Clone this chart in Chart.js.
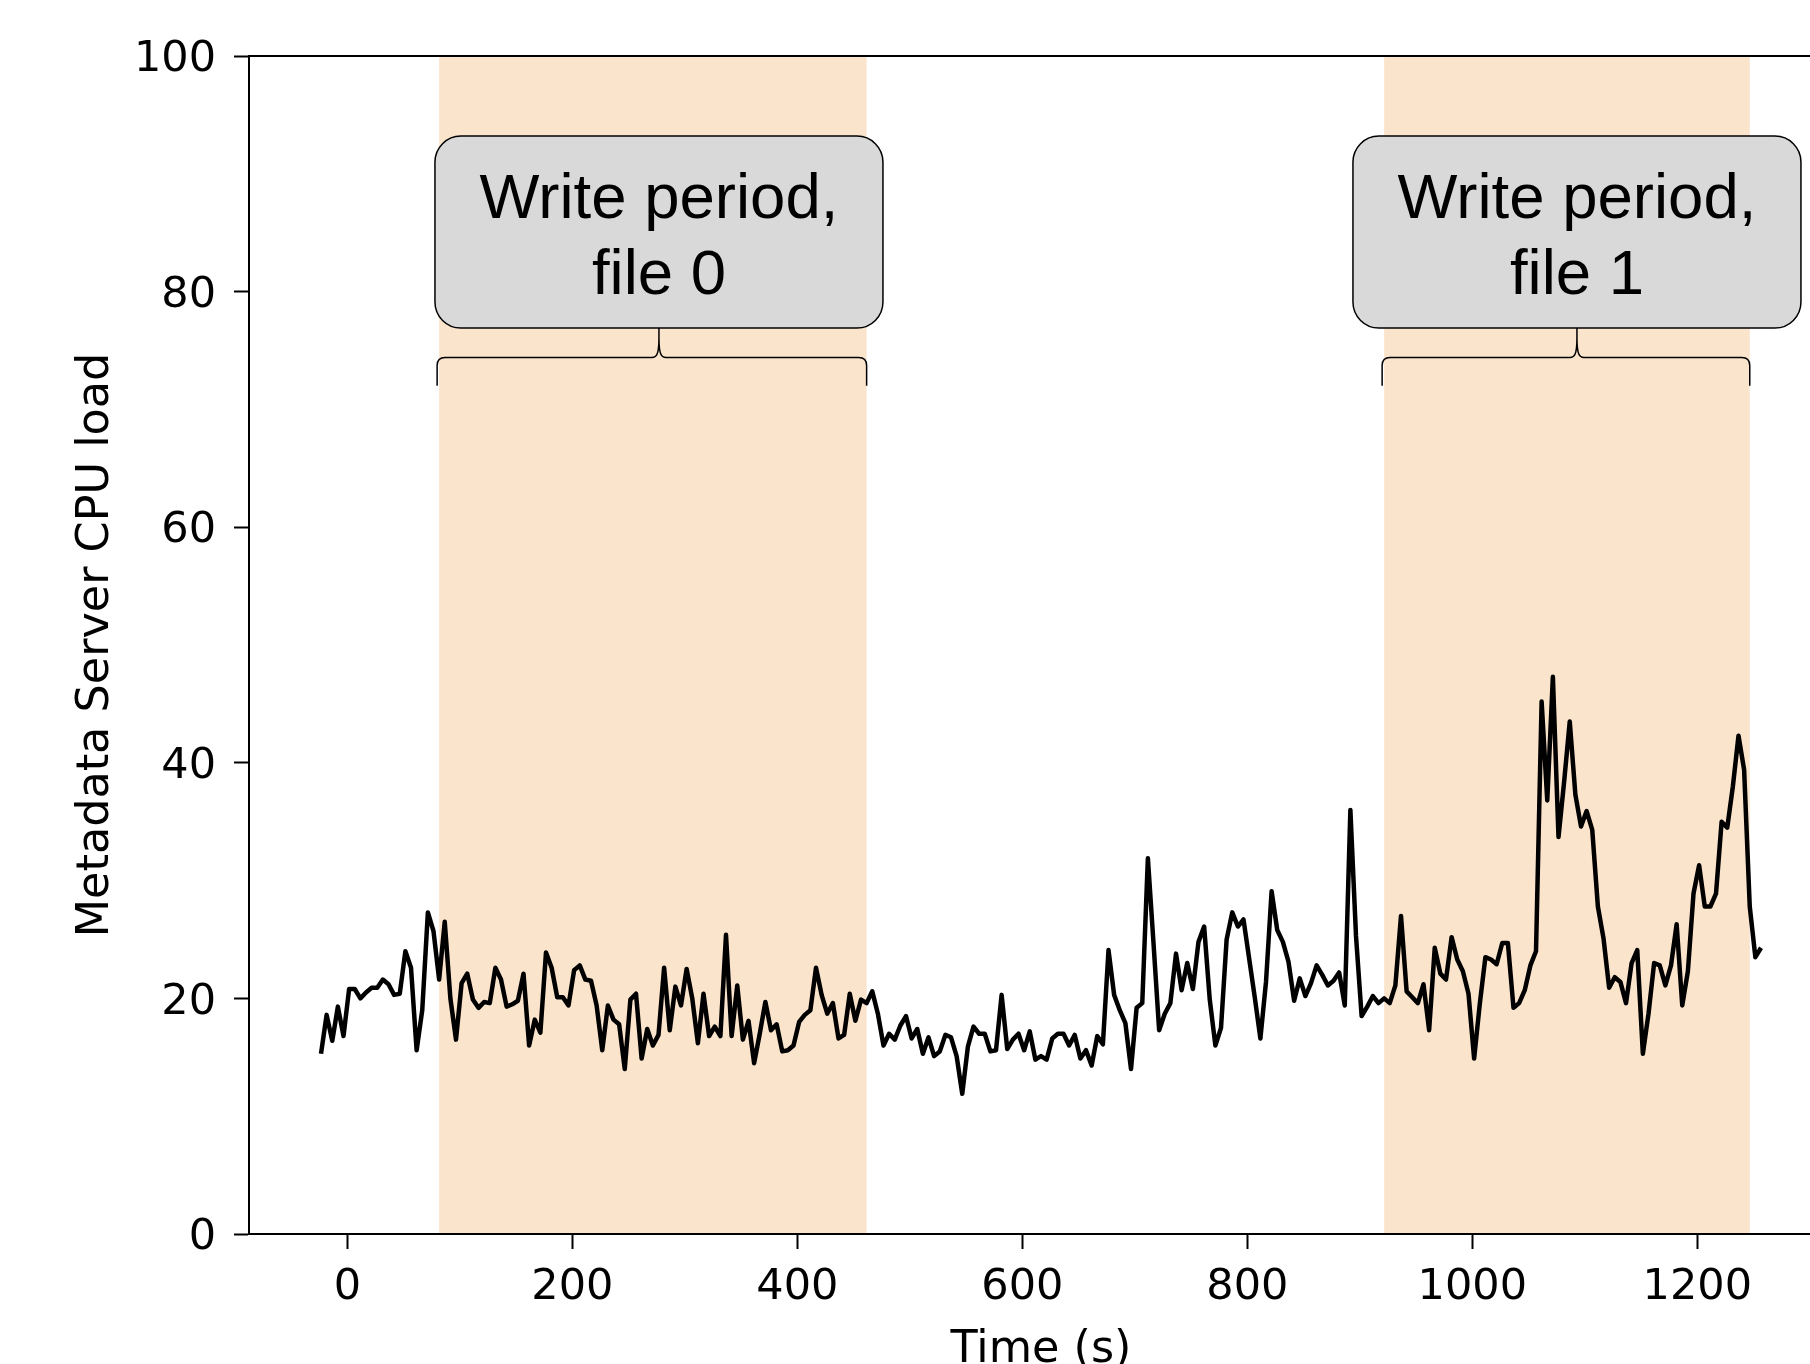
<!DOCTYPE html>
<html>
<head>
<meta charset="utf-8">
<script src="https://cdn.jsdelivr.net/npm/chart.js@4.4.0/dist/chart.umd.min.js"></script>
<style>
html,body{margin:0;padding:0;overflow:hidden;background:#fff;}
canvas{display:block;}
</style>
</head>
<body>
<canvas id="c" width="1840" height="1400"></canvas>
<script>
// ---- data ----
const startTime = -23.4;      // time of first sample (s)
const sampleInterval = 5;     // seconds between samples
const cpuLoad = [
  15.3, 18.6, 16.4, 19.3, 16.8, 20.8, 20.8, 20.0, 20.5, 20.9,
  20.9, 21.6, 21.2, 20.3, 20.4, 24.0, 22.6, 15.6, 19.0, 27.3,
  25.7, 21.6, 26.5, 20.0, 16.5, 21.3, 22.1, 19.9, 19.2, 19.7,
  19.6, 22.6, 21.6, 19.3, 19.5, 19.8, 22.1, 16.0, 18.2, 17.1,
  23.9, 22.6, 20.1, 20.1, 19.4, 22.4, 22.8, 21.6, 21.5, 19.4,
  15.6, 19.4, 18.2, 17.8, 14.0, 19.9, 20.4, 14.9, 17.4, 16.0,
  16.9, 22.6, 17.3, 21.0, 19.4, 22.5, 20.0, 16.2, 20.4, 16.8,
  17.6, 16.8, 25.4, 16.8, 21.1, 16.5, 18.1, 14.5, 17.0, 19.7,
  17.3, 17.8, 15.5, 15.6, 16.0, 18.0, 18.6, 19.0, 22.6, 20.3,
  18.7, 19.6, 16.6, 16.9, 20.4, 18.1, 19.9, 19.6, 20.6, 18.7,
  16.0, 17.0, 16.5, 17.7, 18.5, 16.6, 17.4, 15.3, 16.7, 15.1,
  15.5, 16.9, 16.7, 15.1, 11.9, 15.9, 17.6, 17.0, 17.0, 15.5,
  15.6, 20.3, 15.7, 16.5, 17.0, 15.6, 17.2, 14.8, 15.1, 14.8,
  16.6, 17.0, 17.0, 16.0, 16.9, 14.9, 15.6, 14.3, 16.8, 16.1,
  24.1, 20.3, 19.0, 17.9, 14.0, 19.2, 19.6, 31.9, 24.7, 17.3,
  18.7, 19.6, 23.8, 20.7, 23.0, 20.8, 24.8, 26.1, 19.9, 16.0,
  17.5, 25.0, 27.3, 26.1, 26.7, 23.4, 20.1, 16.6, 21.4, 29.1,
  25.8, 24.8, 23.1, 19.8, 21.7, 20.2, 21.3, 22.8, 22.0, 21.1,
  21.5, 22.2, 19.4, 36.0, 25.3, 18.5, 19.3, 20.2, 19.6, 20.0,
  19.6, 21.1, 27.0, 20.6, 20.1, 19.6, 21.2, 17.3, 24.3, 22.1,
  21.6, 25.2, 23.3, 22.3, 20.4, 14.9, 19.5, 23.5, 23.3, 22.9,
  24.7, 24.7, 19.2, 19.6, 20.7, 22.8, 24.0, 45.2, 36.8, 47.3,
  33.7, 38.4, 43.5, 37.3, 34.6, 35.9, 34.3, 27.8, 25.1, 20.9,
  21.8, 21.4, 19.6, 23.0, 24.1, 15.3, 18.7, 23.0, 22.8, 21.1,
  22.8, 26.3, 19.4, 22.3, 28.9, 31.3, 27.8, 27.8, 28.9, 35.0,
  34.5, 38.0, 42.3, 39.4, 27.8, 23.5, 24.3
];
const xTicks = [0, 200, 400, 600, 800, 1000, 1200];
const yTicks = [0, 20, 40, 60, 80, 100];
const xRange = [-87.4, 1320.6];
const yRange = [0, 100];
const spanStarts = [81.6, 921.6];
const spanEnds = [461.6, 1246.6];
const noteCenters = [277, 1093];
const noteLines = [["Write period,", "file 0"], ["Write period,", "file 1"]];
const noteBoxTop = 93.2, noteBoxBottom = 76.9, braceLevel = 74.4, braceFoot = 72.0;

// ---- drawing ----
Chart.defaults.font.family = "'DejaVu Sans', sans-serif";
Chart.defaults.color = '#000';

function roundedRect(ctx, x, y, w, h, r) {
  ctx.beginPath();
  ctx.moveTo(x + r, y);
  ctx.lineTo(x + w - r, y);
  ctx.arcTo(x + w, y, x + w, y + r, r);
  ctx.lineTo(x + w, y + h - r);
  ctx.arcTo(x + w, y + h, x + w - r, y + h, r);
  ctx.lineTo(x + r, y + h);
  ctx.arcTo(x, y + h, x, y + h - r, r);
  ctx.lineTo(x, y + r);
  ctx.arcTo(x, y, x + r, y, r);
  ctx.closePath();
}

const overlay = {
  id: 'overlay',
  beforeDraw(chart) {
    const {ctx, chartArea: a, scales: {x}} = chart;
    ctx.save();
    ctx.fillStyle = '#FBE4CC';
    spanStarts.forEach((s, i) => {
      const x0 = x.getPixelForValue(s), x1 = x.getPixelForValue(spanEnds[i]);
      ctx.fillRect(x0, a.top, x1 - x0, a.bottom - a.top);
    });
    ctx.restore();
  },
  afterDatasetsDraw(chart) {
    const {ctx, chartArea: a, scales: {x, y}} = chart;
    ctx.save();
    // top spine
    ctx.strokeStyle = '#000';
    ctx.lineWidth = 2;
    ctx.beginPath();
    ctx.moveTo(a.left - 1, a.top);
    ctx.lineTo(a.right, a.top);
    ctx.stroke();

    const boxW = 448, rad = 26;
    noteCenters.forEach((c, i) => {
      const cx = x.getPixelForValue(c);
      const top = y.getPixelForValue(noteBoxTop);
      const bot = y.getPixelForValue(noteBoxBottom);
      roundedRect(ctx, cx - boxW / 2, top, boxW, bot - top, rad);
      ctx.fillStyle = '#D9D9D9';
      ctx.fill();
      ctx.lineWidth = 1.5;
      ctx.strokeStyle = '#000';
      ctx.stroke();
      ctx.fillStyle = '#000';
      ctx.font = '63.5px "Liberation Sans", Arial, sans-serif';
      ctx.textAlign = 'center';
      ctx.textBaseline = 'alphabetic';
      ctx.fillText(noteLines[i][0], cx, top + 82);
      ctx.fillText(noteLines[i][1], cx, top + 158);

      // curly bracket
      const bx0 = x.getPixelForValue(spanStarts[i]) - 2;
      const bx1 = x.getPixelForValue(spanEnds[i]);
      const by = y.getPixelForValue(braceLevel);
      const byF = y.getPixelForValue(braceFoot);
      const tipY = by - 20;
      ctx.lineWidth = 1.5;
      ctx.beginPath();
      ctx.moveTo(bx0, byF);
      ctx.lineTo(bx0, by + 8);
      ctx.quadraticCurveTo(bx0, by, bx0 + 8, by);
      ctx.lineTo(cx - 7, by);
      ctx.bezierCurveTo(cx - 2, by, cx, by - 4, cx, tipY);
      ctx.lineTo(cx, bot);
      ctx.moveTo(cx, tipY);
      ctx.bezierCurveTo(cx, by - 4, cx + 2, by, cx + 7, by);
      ctx.lineTo(bx1 - 8, by);
      ctx.quadraticCurveTo(bx1, by, bx1, by + 8);
      ctx.lineTo(bx1, byF);
      ctx.stroke();
    });
    ctx.restore();
  }
};

new Chart(document.getElementById('c'), {
  type: 'line',
  data: {
    datasets: [{
      data: cpuLoad.map((v, i) => ({x: startTime + i * sampleInterval, y: v})),
      borderColor: '#000',
      borderWidth: 4.5,
      pointRadius: 0,
      tension: 0,
      fill: false,
      borderJoinStyle: 'round'
    }]
  },
  options: {
    responsive: false,
    animation: false,
    devicePixelRatio: 1,
    layout: {padding: {top: 56, right: 7, left: 0, bottom: 0}},
    plugins: {legend: {display: false}, tooltip: {enabled: false}},
    scales: {
      x: {
        type: 'linear',
        min: xRange[0], max: xRange[1],
        afterBuildTicks: s => { s.ticks = xTicks.map(v => ({value: v})); },
        afterFit: s => { s.height = 166; },
        grid: {drawOnChartArea: false, drawTicks: true, tickLength: 15, tickWidth: 2, tickColor: '#000'},
        border: {display: true, color: '#000', width: 2},
        ticks: {color: '#000', font: {size: 43}, padding: 13, maxRotation: 0, autoSkip: false,
                callback: v => String(v)},
        title: {display: true, text: 'Time (s)', color: '#000', font: {size: 44.5}, padding: {top: 0, bottom: 23}}
      },
      y: {
        type: 'linear',
        min: yRange[0], max: yRange[1],
        afterBuildTicks: s => { s.ticks = yTicks.map(v => ({value: v})); },
        afterFit: s => { s.width = 249; },
        grid: {drawOnChartArea: false, drawTicks: true, tickLength: 15, tickWidth: 2, tickColor: '#000'},
        border: {display: true, color: '#000', width: 2},
        ticks: {color: '#000', font: {size: 43}, padding: 18, labelOffset: 4, callback: v => String(v)},
        title: {display: true, text: 'Metadata Server CPU load', color: '#000', font: {size: 44.5}, padding: {top: 70, bottom: 0}}
      }
    }
  },
  plugins: [overlay]
});
</script>
</body>
</html>
